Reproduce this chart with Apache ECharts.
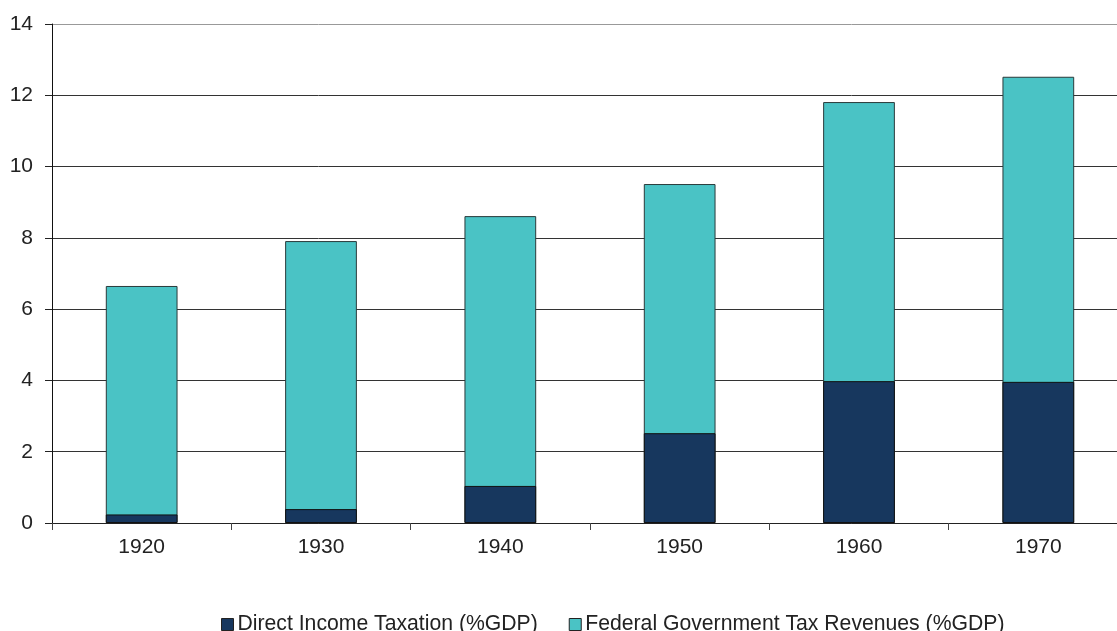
<!DOCTYPE html>
<html>
<head>
<meta charset="utf-8">
<script src="https://cdn.jsdelivr.net/npm/echarts@6/dist/echarts.min.js"></script>
<style>
html,body{margin:0;padding:0;background:#fff;}
#main{width:1117px;height:631px;}
</style>
</head>
<body>
<div id="main"></div>
<script>
const categories = ['1920', '1930', '1940', '1950', '1960', '1970'];
const directIncomeTaxation = [0.24, 0.39, 1.04, 2.52, 3.98, 3.96];
const federalTaxRevenues = [6.65, 7.91, 8.61, 9.51, 11.81, 12.52];
const yTicks = [0, 2, 4, 6, 8, 10, 12, 14];

const chart = echarts.init(document.getElementById('main'));
chart.setOption({
  animation: false,
  backgroundColor: '#ffffff',
  textStyle: { fontFamily: 'Liberation Sans, Arial, sans-serif' },
  legend: {
    data: ['Direct Income Taxation (%GDP)', 'Federal Government Tax Revenues (%GDP)'],
    left: 216,
    top: 609,
    itemWidth: 12,
    itemHeight: 12,
    itemGap: 31,
    icon: 'rect',
    textStyle: { fontSize: 21.2, color: '#222', padding: [0, 0, 0, -1] },
    itemStyle: { borderColor: '#222', borderWidth: 1 }
  },
  grid: { left: 52, width: 1076, top: 24, height: 499, containLabel: false, outerBoundsMode: 'none' },
  xAxis: {
    type: 'category',
    data: categories,
    boundaryGap: true,
    axisLine: { lineStyle: { color: '#222', width: 1 } },
    axisTick: { show: true, alignWithLabel: false, length: 7, lineStyle: { color: '#444' } },
    axisLabel: { fontSize: 21, color: '#222', margin: 14 }
  },
  yAxis: {
    type: 'value',
    min: yTicks[0],
    max: yTicks[yTicks.length - 1],
    interval: 2,
    axisLine: { show: true, lineStyle: { color: '#111', width: 1 } },
    axisTick: { show: true, length: 7, lineStyle: { color: '#222' } },
    axisLabel: { fontSize: 21, color: '#222', margin: 19 },
    splitLine: { show: true, lineStyle: { color: ['#333', '#333', '#333', '#333', '#333', '#333', '#333', '#999'], width: 1 } }
  },
  series: [
    {
      name: 'Federal Government Tax Revenues (%GDP)',
      type: 'bar',
      data: federalTaxRevenues,
      barWidth: '40%',
      barGap: '-100%',
      itemStyle: { color: '#4AC3C5', borderColor: '#2a3a3a', borderWidth: 1 },
      z: 2
    },
    {
      name: 'Direct Income Taxation (%GDP)',
      type: 'bar',
      data: directIncomeTaxation,
      barWidth: '40%',
      barGap: '-100%',
      itemStyle: { color: '#17375E', borderColor: '#111', borderWidth: 1 },
      z: 3
    }
  ]
});
</script>
</body>
</html>
